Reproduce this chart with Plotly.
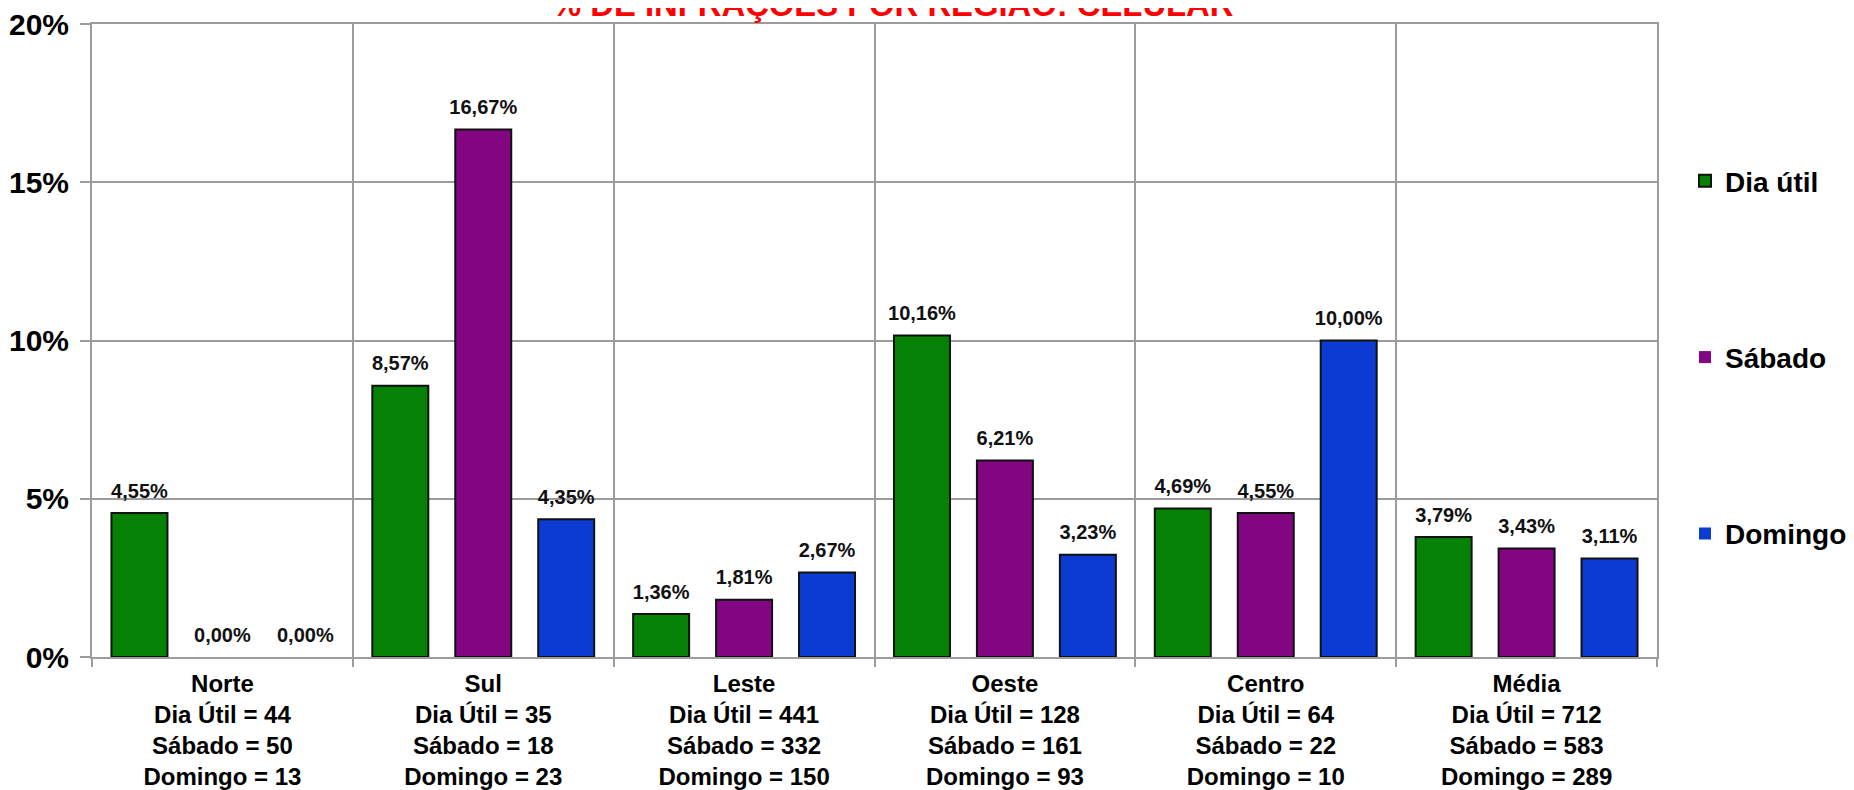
import plotly.graph_objects as go

# ---- data ----
regioes = ["Norte", "Sul", "Leste", "Oeste", "Centro", "Média"]
n_dia_util = [44, 35, 441, 128, 64, 712]
n_sabado = [50, 18, 332, 161, 22, 583]
n_domingo = [13, 23, 150, 93, 10, 289]

pct_dia_util = [0.0455, 0.0857, 0.0136, 0.1016, 0.0469, 0.0379]
pct_sabado = [0.0000, 0.1667, 0.0181, 0.0621, 0.0455, 0.0343]
pct_domingo = [0.0000, 0.0435, 0.0267, 0.0323, 0.1000, 0.0311]

series_names = ["Dia útil", "Sábado", "Domingo"]
title_text = "% DE INFRAÇÕES POR REGIÃO: CELULAR"

tick_labels = [
    f"{r}<br>Dia Útil = {a}<br>Sábado = {b}<br>Domingo = {c}"
    for r, a, b, c in zip(regioes, n_dia_util, n_sabado, n_domingo)
]

colors = ["#058205", "#820582", "#0b3bd3"]
FONT = "Liberation Sans, Arial, sans-serif"
GRID = "#9c9c9c"
# the page body adds an 8px offset, so the figure is 8px smaller than the window
W, H = 1846, 782
ML, MR, MT, MB = 84, 197, 16, 133
PW = W - ML - MR

fig = go.Figure()
all_series = [pct_dia_util, pct_sabado, pct_domingo]
for i, (name, vals) in enumerate(zip(series_names, all_series)):
    fig.add_trace(go.Bar(
        x=regioes, y=vals, name=name,
        marker=dict(color=colors[i],
                    line=dict(color="#111111", width=[2 if v > 0 else 0 for v in vals])),
        legendgroup=name, offsetgroup=str(i), alignmentgroup="bars",
    ))
# value labels, grouped to sit over their bars
for i, (name, vals) in enumerate(zip(series_names, all_series)):
    fig.add_trace(go.Scatter(
        x=regioes, y=vals, mode="markers+text", showlegend=False, hoverinfo="skip",
        marker=dict(size=15, color="rgba(0,0,0,0)"),
        texttemplate="%{y:.2%}", textposition="top center",
        textfont=dict(family=FONT, size=20, color="#111111", weight="bold"),
        cliponaxis=False, offsetgroup=str(i), alignmentgroup="labels", legendgroup=name,
    ))

fig.update_layout(
    width=W, height=H,
    margin=dict(l=ML, r=MR, t=MT, b=MB, autoexpand=False),
    paper_bgcolor="white", plot_bgcolor="white",
    separators=",.",
    barmode="group", bargap=0.046, bargroupgap=0.325,
    scattermode="group", scattergap=0.046,
    font=dict(family=FONT, color="black"),
    legend=dict(x=(1677 - ML) / PW, xanchor="left", y=0.7915, yanchor="top",
                font=dict(family=FONT, size=28, color="black", weight="bold"),
                tracegroupgap=137, bgcolor="rgba(0,0,0,0)"),
    showlegend=True,
    annotations=[dict(
        text="<b>" + title_text + "</b>", xref="paper", yref="paper",
        x=(885 - ML) / PW, y=0.999, xanchor="center", yanchor="bottom",
        showarrow=False, font=dict(family=FONT, size=32.8, color="#ff0000"),
    )],
)
fig.update_xaxes(
    type="category", tickmode="array", tickvals=regioes, ticktext=tick_labels,
    tickson="boundaries", ticks="outside", ticklen=8, tickcolor=GRID, tickwidth=2,
    showgrid=True, gridcolor=GRID, gridwidth=2, automargin=False,
    showline=True, linecolor=GRID, linewidth=2, mirror=True,
    tickfont=dict(family=FONT, size=24, color="black", weight="bold"),
    ticklabelstandoff=4,
)
fig.update_yaxes(
    range=[0, 0.20], tickvals=[0, 0.05, 0.10, 0.15, 0.20], tickformat=".0%",
    ticks="outside", ticklen=10, tickcolor=GRID, tickwidth=2, automargin=False,
    showgrid=True, gridcolor=GRID, gridwidth=2, zeroline=False,
    showline=True, linecolor=GRID, linewidth=2, mirror=True,
    tickfont=dict(family=FONT, size=30, color="black", weight="bold"),
    ticklabelstandoff=5, ticklabeloverflow="allow",
)

fig.write_html("out.html")
